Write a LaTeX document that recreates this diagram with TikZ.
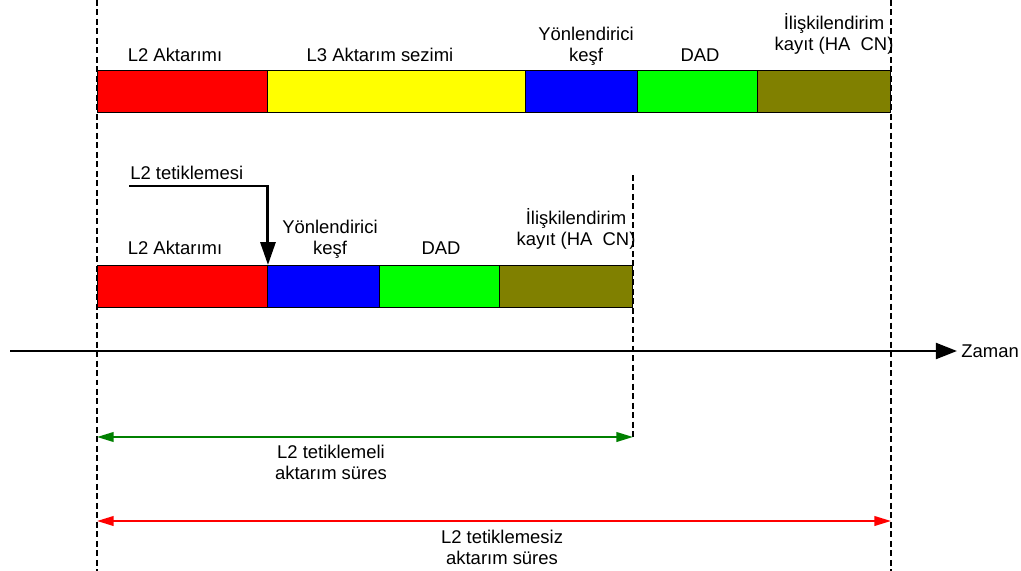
\documentclass[tikz,border=0pt]{standalone}
\usepackage{fontspec}
\setmainfont{Liberation Sans}
\usetikzlibrary{arrows.meta}
\definecolor{segred}{RGB}{255,0,0}
\definecolor{segyellow}{RGB}{255,255,0}
\definecolor{segblue}{RGB}{0,0,255}
\definecolor{seggreen}{RGB}{0,255,0}
\definecolor{segolive}{RGB}{128,128,0}
\definecolor{spangreen}{RGB}{0,128,0}
\definecolor{spanred}{RGB}{255,0,0}
\begin{document}
\begin{tikzpicture}[x=0.02cm, y=-0.02cm,
  font=\fontsize{10.5}{12}\selectfont,
  seg/.style={draw=black, line width=0.55pt, inner sep=0pt, outer sep=0pt,
    minimum height=0.84cm, anchor=north west},
  lbl/.style={align=center, inner sep=0pt, anchor=south, text depth=0pt},
  guide/.style={line width=0.9pt, dash pattern=on 3.4pt off 2pt},
  axis/.style={line width=1.6pt, -{Triangle[length=12pt, width=9pt]}},
  trig/.style={line width=1.7pt, -{Triangle[length=13pt, width=8.5pt]}},
  span/.style={line width=1.1pt, {Triangle[length=9.5pt, width=5.5pt]}-{Triangle[length=9.5pt, width=5.5pt]}}]
  \useasboundingbox (0,0) rectangle (1021,571);

  % time guides
  \coordinate (gA0) at (97,0);   \coordinate (gA1) at (97,571);
  \coordinate (gB0) at (891,0);  \coordinate (gB1) at (891,571);
  \coordinate (gC0) at (633,175); \coordinate (gC1) at (633,437);
  \draw[guide] (gA0) -- (gA1);
  \draw[guide] (gB0) -- (gB1);
  \draw[guide] (gC0) -- (gC1);

  % handover without L2 trigger
  \node[seg, fill=segred,    minimum width=3.42cm] (tL2)  at (97,70) {};
  \node[seg, fill=segyellow, minimum width=5.16cm] (tL3)  at (tL2.north east) {};
  \node[seg, fill=segblue,   minimum width=2.24cm] (tRD)  at (tL3.north east) {};
  \node[seg, fill=seggreen,  minimum width=2.40cm] (tDAD) at (tRD.north east) {};
  \node[seg, fill=segolive,  minimum width=2.66cm] (tREG) at (tDAD.north east) {};

  \node[lbl] (tL2t)  at (175,61.5) {L2 Aktarımı};
  \node[lbl] (tL3t)  at (380,61.5) {L3 Aktarım sezimi};
  \node[lbl] (tRDt)  at (586,61.5) {Yönlendirici\\keşf};
  \node[lbl] (tDADt) at (700,61.5) {DAD};
  \node[lbl] (tREGt) at (834,50.5) {İlişkilendirim\\kayıt (HA\ \ CN)};

  % handover with L2 trigger
  \node[seg, fill=segred,   minimum width=3.42cm] (mL2)  at (97,265) {};
  \node[seg, fill=segblue,  minimum width=2.24cm] (mRD)  at (mL2.north east) {};
  \node[seg, fill=seggreen, minimum width=2.40cm] (mDAD) at (mRD.north east) {};
  \node[seg, fill=segolive, minimum width=2.66cm] (mREG) at (mDAD.north east) {};

  \node[lbl] (mL2t)  at (175,255) {L2 Aktarımı};
  \node[lbl] (mRDt)  at (330,255) {Yönlendirici\\keşf};
  \node[lbl] (mDADt) at (441,255) {DAD};
  \node[lbl] (mREGt) at (576,245.5) {İlişkilendirim\\kayıt (HA\ \ CN)};

  % L2 trigger
  \node[inner sep=0pt, anchor=base west] (trigt) at (130,179.5) {L2 tetiklemesi};
  \coordinate (trigS) at (129,186);
  \draw[trig] (trigS) -| (mL2.north east);

  % time axis
  \coordinate (ax0) at (10,351);
  \coordinate (ax1) at (957,351);
  \draw[axis] (ax0) -- (ax1);
  \node[inner sep=0pt, anchor=base west] (axt) at (961,357.5) {Zaman};

  % durations
  \coordinate (d1a) at (97,437);  \coordinate (d1b) at (633,437);
  \coordinate (d2a) at (97,521);  \coordinate (d2b) at (891,521);
  \draw[span, draw=spangreen, fill=spangreen] (d1a) -- (d1b);
  \draw[span, draw=spanred, fill=spanred] (d2a) -- (d2b);
  \node[lbl] (d1t) at (331,480) {L2 tetiklemeli\\aktarım süres};
  \node[lbl] (d2t) at (502,564.5) {L2 tetiklemesiz\\aktarım süres};
\end{tikzpicture}
\end{document}
